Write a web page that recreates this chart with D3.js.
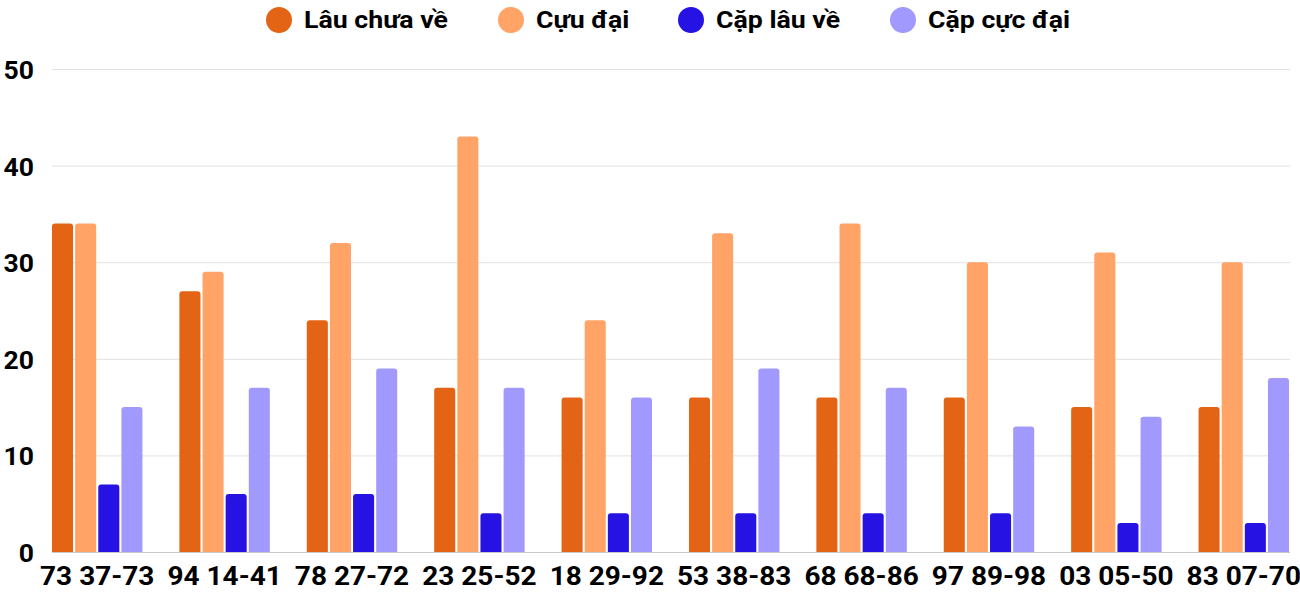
<!DOCTYPE html>
<html><head><meta charset="utf-8">
<script src="https://cdn.jsdelivr.net/npm/d3@7"></script>
<style>body{margin:0;background:#fff;}svg{display:block;font-family:Roboto,"Noto Sans",sans-serif;}</style>
</head><body>
<svg id="c" width="1300" height="600"></svg>
<script>
const categories = ["73 37-73","94 14-41","78 27-72","23 25-52","18 29-92","53 38-83","68 68-86","97 89-98","03 05-50","83 07-70"];
const seriesNames = ["Lâu chưa về","Cựu đại","Cặp lâu về","Cặp cực đại"];
const lauChuaVe = [34,27,24,17,16,16,16,16,15,15];
const cuuDai = [34,29,32,43,24,33,34,30,31,30];
const capLauVe = [7,6,6,4,4,4,4,4,3,3];
const capCucDai = [15,17,19,17,16,19,17,13,14,18];
const yTicks = [0,10,20,30,40,50];
const colors = ["#E36414","#FFA366","#2612E2","#A299FF"];
const seriesValues = [lauChuaVe,cuuDai,capLauVe,capCucDai];

const svg = d3.select("#c");
const x0 = d3.scaleBand().domain(categories).range([52,1289]).paddingInner(0.29).paddingOuter(0);
const x1 = d3.scaleBand().domain(seriesNames).range([0,x0.bandwidth()]).paddingInner(0.09).paddingOuter(0);
const y = d3.scaleLinear().domain([0,50]).range([552,69]);

// grid
svg.append("g").selectAll("line").data(yTicks).join("line")
  .attr("x1",52).attr("x2",1290)
  .attr("y1",d=>y(d)+0.5).attr("y2",d=>y(d)+0.5)
  .attr("stroke",d=>d===0?"#c8c8c8":"#e2e2e2").attr("stroke-width",1);

// y axis labels
const yAxis = d3.axisLeft(y).tickValues(yTicks).tickSize(0).tickPadding(0);
const ya = svg.append("g").attr("transform","translate(34,0)").call(yAxis);
ya.select(".domain").remove();
ya.selectAll("text").attr("font-size",26.5).attr("font-weight","bold").attr("fill","#000").attr("font-family","Roboto").attr("dy","0.36em");

// x axis labels
const xAxis = d3.axisBottom(x0).tickSize(0).tickPadding(0);
const xa = svg.append("g").attr("transform","translate(0,584.5)").call(xAxis);
xa.select(".domain").remove();
xa.selectAll("text").attr("font-size",25).attr("font-weight","bold").attr("fill","#000").attr("font-family","Roboto")
  .attr("dy","0").attr("y",0).attr("transform","scale(1.12,1)");

function barPath(x,yTop,w,h,r){
  r=Math.min(r,h,w/2);
  return `M${x},${yTop+h}V${yTop+r}Q${x},${yTop} ${x+r},${yTop}H${x+w-r}Q${x+w},${yTop} ${x+w},${yTop+r}V${yTop+h}Z`;
}

const groups = svg.append("g").selectAll("g").data(categories).join("g")
  .attr("transform",d=>`translate(${x0(d)},0)`);
groups.selectAll("path").data((d,i)=>seriesNames.map((s,j)=>({s,j,v:seriesValues[j][i]}))).join("path")
  .attr("d",d=>barPath(x1(d.s),y(d.v),x1.bandwidth(),y(0)-y(d.v),3))
  .attr("fill",d=>colors[d.j]);

// legend
const legendX = [279,511,691,903];
const lg = svg.append("g").selectAll("g").data(seriesNames).join("g")
  .attr("transform",(d,i)=>`translate(${legendX[i]},20)`);
lg.append("circle").attr("r",13).attr("fill",(d,i)=>colors[i]);
lg.append("text").attr("transform","translate(25,8) scale(1.09,1)").attr("font-size",24.5).attr("font-weight","bold").attr("fill","#000")
  .text(d=>d);
</script>
</body></html>
